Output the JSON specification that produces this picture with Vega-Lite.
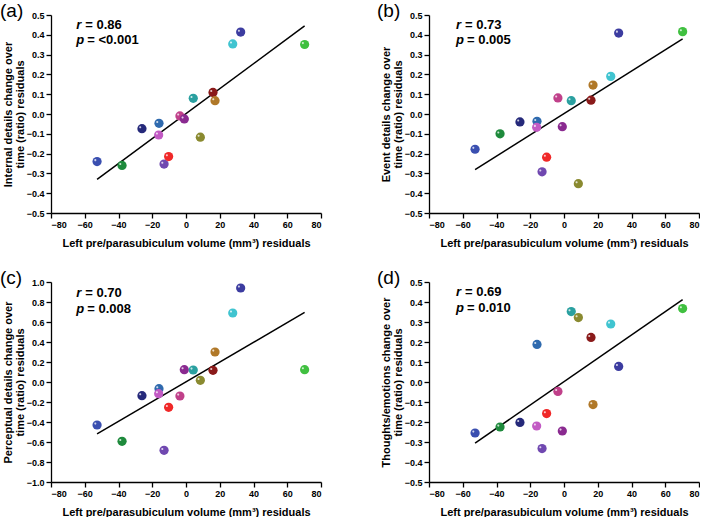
{
  "$schema": "https://vega.github.io/schema/vega-lite/v6.json",
  "padding": {"left": 0, "top": 2, "right": 0, "bottom": 0},
  "data": {"values": [
    {"s": "s01", "x": -52.7, "a": -0.24, "b": -0.178, "c": -0.43, "d": -0.255},
    {"s": "s02", "x": -37.9, "a": -0.26, "b": -0.10, "c": -0.593, "d": -0.225},
    {"s": "s03", "x": -26.1, "a": -0.074, "b": -0.04, "c": -0.137, "d": -0.202},
    {"s": "s04", "x": -16.0, "a": -0.047, "b": -0.037, "c": -0.067, "d": 0.188},
    {"s": "s05", "x": -16.2, "a": -0.106, "b": -0.067, "c": -0.117, "d": -0.22},
    {"s": "s06", "x": -13.0, "a": -0.253, "b": -0.292, "c": -0.683, "d": -0.333},
    {"s": "s07", "x": -10.3, "a": -0.215, "b": -0.218, "c": -0.253, "d": -0.158},
    {"s": "s08", "x": -3.6, "a": -0.01, "b": 0.081, "c": -0.14, "d": -0.047},
    {"s": "s09", "x": -1.0, "a": -0.025, "b": -0.064, "c": 0.123, "d": -0.245},
    {"s": "s10", "x": 4.3, "a": 0.079, "b": 0.067, "c": 0.12, "d": 0.352},
    {"s": "s11", "x": 8.5, "a": -0.117, "b": -0.352, "c": 0.017, "d": 0.322},
    {"s": "s12", "x": 16.0, "a": 0.109, "b": 0.07, "c": 0.117, "d": 0.223},
    {"s": "s13", "x": 17.2, "a": 0.067, "b": 0.146, "c": 0.30, "d": -0.113},
    {"s": "s14", "x": 27.7, "a": 0.354, "b": 0.19, "c": 0.69, "d": 0.29},
    {"s": "s15", "x": 32.4, "a": 0.414, "b": 0.409, "c": 0.94, "d": 0.078},
    {"s": "s16", "x": 70.3, "a": 0.351, "b": 0.416, "c": 0.123, "d": 0.367}
  ]},
  "columns": 2,
  "spacing": {"column": 55, "row": 21},
  "concat": [
    {
      "width": 270, "height": 198,
      "title": {"text": "(a)", "anchor": "start", "dx": -51, "offset": -10},
      "layer": [
        {"mark": {"type": "line", "color": "black", "strokeWidth": 1.5},
         "transform": [{"regression": "a", "on": "x"}],
         "encoding": {
           "x": {"field": "x", "type": "quantitative", "scale": {"domain": [-80, 80], "nice": false}, "axis": {"values": [-80, -60, -40, -20, 0, 20, 40, 60, 80], "tickCount": 20, "title": "Left pre/parasubiculum volume (mm³) residuals"}},
           "y": {"field": "a", "type": "quantitative", "scale": {"domain": [-0.5, 0.5], "nice": false}, "axis": {"values": [-0.5, -0.4, -0.3, -0.2, -0.1, 0, 0.1, 0.2, 0.3, 0.4, 0.5], "tickCount": 20, "format": ".1f", "title": ["Internal details change over", "time (ratio) residuals"]}}
         }},
        {"mark": {"type": "circle", "size": 85, "opacity": 1},
         "encoding": {
           "x": {"field": "x", "type": "quantitative"},
           "y": {"field": "a", "type": "quantitative"},
           "color": {"field": "s", "type": "nominal", "legend": null, "scale": {"domain": ["s01","s02","s03","s04","s05","s06","s07","s08","s09","s10","s11","s12","s13","s14","s15","s16"], "range": ["#3a4fb0","#1e8a3c","#25297a","#2f6aae","#c25ac4","#7048b0","#f02828","#c0408a","#8a2a90","#2aa0a0","#8a8a30","#8a1a1a","#b07828","#40c4d0","#3c3ca0","#40c040"]}}
         }},
        {"mark": {"type": "point", "filled": true, "color": "white", "opacity": 0.75, "size": 85, "shape": "M -0.6 -0.3 A 0.22 0.22 0 1 1 -0.16 -0.3 A 0.22 0.22 0 1 1 -0.6 -0.3 Z"},
         "encoding": {"x": {"field": "x", "type": "quantitative"}, "y": {"field": "a", "type": "quantitative"}}},
        {"data": {"values": [{}]}, "mark": {"type": "text", "text": "r", "fontStyle": "italic", "fontWeight": "bold", "fontSize": 13, "align": "left", "baseline": "middle"},
         "encoding": {"x": {"datum": -65}, "y": {"datum": 0.45}}},
        {"data": {"values": [{}]}, "mark": {"type": "text", "text": "= 0.86", "dx": 9, "fontWeight": "bold", "fontSize": 13, "align": "left", "baseline": "middle"},
         "encoding": {"x": {"datum": -65}, "y": {"datum": 0.45}}},
        {"data": {"values": [{}]}, "mark": {"type": "text", "text": "p", "fontStyle": "italic", "fontWeight": "bold", "fontSize": 13, "align": "left", "baseline": "middle"},
         "encoding": {"x": {"datum": -65}, "y": {"datum": 0.374}}},
        {"data": {"values": [{}]}, "mark": {"type": "text", "text": "= <0.001", "dx": 11, "fontWeight": "bold", "fontSize": 13, "align": "left", "baseline": "middle"},
         "encoding": {"x": {"datum": -65}, "y": {"datum": 0.374}}}
      ]
    },
    {
      "width": 270, "height": 198,
      "title": {"text": "(b)", "anchor": "start", "dx": -52, "offset": -10},
      "layer": [
        {"mark": {"type": "line", "color": "black", "strokeWidth": 1.5},
         "transform": [{"regression": "b", "on": "x"}],
         "encoding": {
           "x": {"field": "x", "type": "quantitative", "scale": {"domain": [-80, 80], "nice": false}, "axis": {"values": [-80, -60, -40, -20, 0, 20, 40, 60, 80], "tickCount": 20, "title": "Left pre/parasubiculum volume (mm³) residuals"}},
           "y": {"field": "b", "type": "quantitative", "scale": {"domain": [-0.5, 0.5], "nice": false}, "axis": {"values": [-0.5, -0.4, -0.3, -0.2, -0.1, 0, 0.1, 0.2, 0.3, 0.4, 0.5], "tickCount": 20, "format": ".1f", "title": ["Event details change over", "time (ratio) residuals"]}}
         }},
        {"mark": {"type": "circle", "size": 85, "opacity": 1},
         "encoding": {
           "x": {"field": "x", "type": "quantitative"},
           "y": {"field": "b", "type": "quantitative"},
           "color": {"field": "s", "type": "nominal", "legend": null, "scale": {"domain": ["s01","s02","s03","s04","s05","s06","s07","s08","s09","s10","s11","s12","s13","s14","s15","s16"], "range": ["#3a4fb0","#1e8a3c","#25297a","#2f6aae","#c25ac4","#7048b0","#f02828","#c0408a","#8a2a90","#2aa0a0","#8a8a30","#8a1a1a","#b07828","#40c4d0","#3c3ca0","#40c040"]}}
         }},
        {"mark": {"type": "point", "filled": true, "color": "white", "opacity": 0.75, "size": 85, "shape": "M -0.6 -0.3 A 0.22 0.22 0 1 1 -0.16 -0.3 A 0.22 0.22 0 1 1 -0.6 -0.3 Z"},
         "encoding": {"x": {"field": "x", "type": "quantitative"}, "y": {"field": "b", "type": "quantitative"}}},
        {"data": {"values": [{}]}, "mark": {"type": "text", "text": "r", "fontStyle": "italic", "fontWeight": "bold", "fontSize": 13, "align": "left", "baseline": "middle"},
         "encoding": {"x": {"datum": -64}, "y": {"datum": 0.45}}},
        {"data": {"values": [{}]}, "mark": {"type": "text", "text": "= 0.73", "dx": 9, "fontWeight": "bold", "fontSize": 13, "align": "left", "baseline": "middle"},
         "encoding": {"x": {"datum": -64}, "y": {"datum": 0.45}}},
        {"data": {"values": [{}]}, "mark": {"type": "text", "text": "p", "fontStyle": "italic", "fontWeight": "bold", "fontSize": 13, "align": "left", "baseline": "middle"},
         "encoding": {"x": {"datum": -64}, "y": {"datum": 0.374}}},
        {"data": {"values": [{}]}, "mark": {"type": "text", "text": "= 0.005", "dx": 11, "fontWeight": "bold", "fontSize": 13, "align": "left", "baseline": "middle"},
         "encoding": {"x": {"datum": -64}, "y": {"datum": 0.374}}}
      ]
    },
    {
      "width": 270, "height": 200,
      "title": {"text": "(c)", "anchor": "start", "dx": -51, "offset": -10},
      "layer": [
        {"mark": {"type": "line", "color": "black", "strokeWidth": 1.5},
         "transform": [{"regression": "c", "on": "x"}],
         "encoding": {
           "x": {"field": "x", "type": "quantitative", "scale": {"domain": [-80, 80], "nice": false}, "axis": {"values": [-80, -60, -40, -20, 0, 20, 40, 60, 80], "tickCount": 20, "title": "Left pre/parasubiculum volume (mm³) residuals"}},
           "y": {"field": "c", "type": "quantitative", "scale": {"domain": [-1, 1], "nice": false}, "axis": {"values": [-1, -0.8, -0.6, -0.4, -0.2, 0, 0.2, 0.4, 0.6, 0.8, 1], "tickCount": 20, "format": ".1f", "title": ["Perceptual details change over", "time (ratio) residuals"]}}
         }},
        {"mark": {"type": "circle", "size": 85, "opacity": 1},
         "encoding": {
           "x": {"field": "x", "type": "quantitative"},
           "y": {"field": "c", "type": "quantitative"},
           "color": {"field": "s", "type": "nominal", "legend": null, "scale": {"domain": ["s01","s02","s03","s04","s05","s06","s07","s08","s09","s10","s11","s12","s13","s14","s15","s16"], "range": ["#3a4fb0","#1e8a3c","#25297a","#2f6aae","#c25ac4","#7048b0","#f02828","#c0408a","#8a2a90","#2aa0a0","#8a8a30","#8a1a1a","#b07828","#40c4d0","#3c3ca0","#40c040"]}}
         }},
        {"mark": {"type": "point", "filled": true, "color": "white", "opacity": 0.75, "size": 85, "shape": "M -0.6 -0.3 A 0.22 0.22 0 1 1 -0.16 -0.3 A 0.22 0.22 0 1 1 -0.6 -0.3 Z"},
         "encoding": {"x": {"field": "x", "type": "quantitative"}, "y": {"field": "c", "type": "quantitative"}}},
        {"data": {"values": [{}]}, "mark": {"type": "text", "text": "r", "fontStyle": "italic", "fontWeight": "bold", "fontSize": 13, "align": "left", "baseline": "middle"},
         "encoding": {"x": {"datum": -65}, "y": {"datum": 0.887}}},
        {"data": {"values": [{}]}, "mark": {"type": "text", "text": "= 0.70", "dx": 9, "fontWeight": "bold", "fontSize": 13, "align": "left", "baseline": "middle"},
         "encoding": {"x": {"datum": -65}, "y": {"datum": 0.887}}},
        {"data": {"values": [{}]}, "mark": {"type": "text", "text": "p", "fontStyle": "italic", "fontWeight": "bold", "fontSize": 13, "align": "left", "baseline": "middle"},
         "encoding": {"x": {"datum": -65}, "y": {"datum": 0.735}}},
        {"data": {"values": [{}]}, "mark": {"type": "text", "text": "= 0.008", "dx": 11, "fontWeight": "bold", "fontSize": 13, "align": "left", "baseline": "middle"},
         "encoding": {"x": {"datum": -65}, "y": {"datum": 0.735}}}
      ]
    },
    {
      "width": 270, "height": 200,
      "title": {"text": "(d)", "anchor": "start", "dx": -52, "offset": -10},
      "layer": [
        {"mark": {"type": "line", "color": "black", "strokeWidth": 1.5},
         "transform": [{"regression": "d", "on": "x"}],
         "encoding": {
           "x": {"field": "x", "type": "quantitative", "scale": {"domain": [-80, 80], "nice": false}, "axis": {"values": [-80, -60, -40, -20, 0, 20, 40, 60, 80], "tickCount": 20, "title": "Left pre/parasubiculum volume (mm³) residuals"}},
           "y": {"field": "d", "type": "quantitative", "scale": {"domain": [-0.5, 0.5], "nice": false}, "axis": {"values": [-0.5, -0.4, -0.3, -0.2, -0.1, 0, 0.1, 0.2, 0.3, 0.4, 0.5], "tickCount": 20, "format": ".1f", "title": ["Thoughts/emotions change over", "time (ratio) residuals"]}}
         }},
        {"mark": {"type": "circle", "size": 85, "opacity": 1},
         "encoding": {
           "x": {"field": "x", "type": "quantitative"},
           "y": {"field": "d", "type": "quantitative"},
           "color": {"field": "s", "type": "nominal", "legend": null, "scale": {"domain": ["s01","s02","s03","s04","s05","s06","s07","s08","s09","s10","s11","s12","s13","s14","s15","s16"], "range": ["#3a4fb0","#1e8a3c","#25297a","#2f6aae","#c25ac4","#7048b0","#f02828","#c0408a","#8a2a90","#2aa0a0","#8a8a30","#8a1a1a","#b07828","#40c4d0","#3c3ca0","#40c040"]}}
         }},
        {"mark": {"type": "point", "filled": true, "color": "white", "opacity": 0.75, "size": 85, "shape": "M -0.6 -0.3 A 0.22 0.22 0 1 1 -0.16 -0.3 A 0.22 0.22 0 1 1 -0.6 -0.3 Z"},
         "encoding": {"x": {"field": "x", "type": "quantitative"}, "y": {"field": "d", "type": "quantitative"}}},
        {"data": {"values": [{}]}, "mark": {"type": "text", "text": "r", "fontStyle": "italic", "fontWeight": "bold", "fontSize": 13, "align": "left", "baseline": "middle"},
         "encoding": {"x": {"datum": -64}, "y": {"datum": 0.45}}},
        {"data": {"values": [{}]}, "mark": {"type": "text", "text": "= 0.69", "dx": 9, "fontWeight": "bold", "fontSize": 13, "align": "left", "baseline": "middle"},
         "encoding": {"x": {"datum": -64}, "y": {"datum": 0.45}}},
        {"data": {"values": [{}]}, "mark": {"type": "text", "text": "p", "fontStyle": "italic", "fontWeight": "bold", "fontSize": 13, "align": "left", "baseline": "middle"},
         "encoding": {"x": {"datum": -64}, "y": {"datum": 0.37}}},
        {"data": {"values": [{}]}, "mark": {"type": "text", "text": "= 0.010", "dx": 11, "fontWeight": "bold", "fontSize": 13, "align": "left", "baseline": "middle"},
         "encoding": {"x": {"datum": -64}, "y": {"datum": 0.37}}}
      ]
    }
  ],
  "config": {
    "font": "Liberation Sans",
    "view": {"stroke": null},
    "title": {"font": "Liberation Sans", "fontSize": 19, "fontWeight": "normal", "color": "black", "frame": "group"},
    "text": {"font": "Liberation Sans", "color": "black"},
    "axis": {
      "grid": false,
      "labelOverlap": false,
      "domainColor": "black", "domainWidth": 1.3,
      "tickColor": "black", "tickWidth": 1.3, "tickSize": 5,
      "labelFont": "Liberation Sans", "labelFontWeight": "bold", "labelFontSize": 9, "labelColor": "black", "labelPadding": 2,
      "titleFont": "Liberation Sans", "titleFontWeight": "bold", "titleFontSize": 11, "titleColor": "black", "titleLineHeight": 12
    },
    "axisX": {"titlePadding": 8},
    "axisY": {"titlePadding": 1}
  }
}
